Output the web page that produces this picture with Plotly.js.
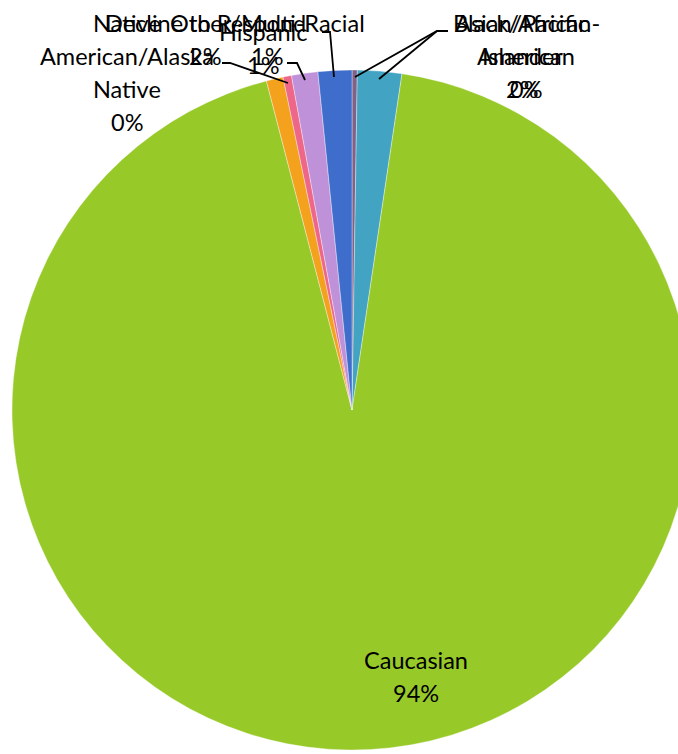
<!DOCTYPE html>
<html>
<head>
<meta charset="utf-8">
<script src="https://cdn.plot.ly/plotly-3.0.1.min.js"></script>
<style>
html,body{margin:0;padding:0;overflow:hidden;background:#fff;}
#chart{width:704px;height:754px;}
</style>
</head>
<body>
<div id="chart"></div>
<script>
// ---- data (clockwise from 12 o'clock) ----
const categories = ["Black/African-American","Asian/Pacific Islander","Caucasian","Native American/Alaska Native","Decline to Respond","Other/Multi-Racial","Hispanic"];
const shares = [0.25, 2.1, 93.6, 0.8, 0.4, 1.25, 1.6];
const pctLabels = ["0%","2%","94%","0%","2%","1%","1%"];
const labelLines = [
  ["Black/African-","American"],
  ["Asian/Pacific","Islander"],
  ["Caucasian"],
  ["Native","American/Alaska","Native"],
  ["Decline to Respond"],
  ["Other/Multi-Racial"],
  ["Hispanic"]
];
const colors = ["#7F6189","#42A3C3","#97C929","#F4A11D","#EE6688","#BF91D9","#3E6DCB"];

// ---- layout helpers (pixel -> paper) ----
const W = 704, H = 754, ML = 12, MR = 12, MT = 70, MB = 4;
const PW = W - ML - MR, PH = H - MT - MB;
const px = x => (x - ML) / PW;
const py = y => 1 - (y - MT) / PH;

// label anchor: [centerX, firstLineCenterY]
const labelPos = [[526,23],[522,23],[416,660],[127,23],[205,23],[267,23],[263,32]];
const lineH = 33;
const FONT = "Lato, Carlito, Calibri, 'Open Sans', sans-serif";
const FS = 23.5;

const annotations = [];
categories.forEach((c,i)=>{
  const lines = labelLines[i].concat([pctLabels[i]]);
  lines.forEach((t,k)=>{
    annotations.push({
      xref:'paper', yref:'paper',
      x: px(labelPos[i][0]), y: py(labelPos[i][1] + k*lineH),
      xanchor:'center', yanchor:'middle',
      text: t, showarrow:false,
      font:{family:FONT, size:FS, color:'#000'}
    });
  });
});

// leader lines (pixel paths)
const leaders = [
  [[448,31],[437,31],[355,77]],
  [[437,31],[379,79]],
  [[222,63],[230,63],[288,83]],
  [[287,63],[297,63],[305,80]],
  [[322,32],[330,32],[334,77]]
];
const shapes = leaders.map(pts=>({
  type:'path', xref:'paper', yref:'paper',
  path: pts.map((p,k)=>(k?'L':'M')+px(p[0])+','+py(p[1])).join(' '),
  line:{color:'#000', width:1.8}
}));

const trace = {
  type:'pie',
  labels: categories,
  values: shares,
  sort:false,
  direction:'clockwise',
  rotation:0,
  textinfo:'none',
  textposition:'none',
  hoverinfo:'skip',
  marker:{colors:colors, line:{color:'rgba(255,255,255,0.6)', width:0.6}},
  showlegend:false
};

const layout = {
  width: W, height: H,
  margin:{l:ML, r:MR, t:MT, b:MB, pad:0},
  paper_bgcolor:'#fff', plot_bgcolor:'#fff',
  showlegend:false,
  annotations: annotations,
  shapes: shapes
};

Plotly.newPlot('chart', [trace], layout, {displayModeBar:false, staticPlot:true});
</script>
</body>
</html>
